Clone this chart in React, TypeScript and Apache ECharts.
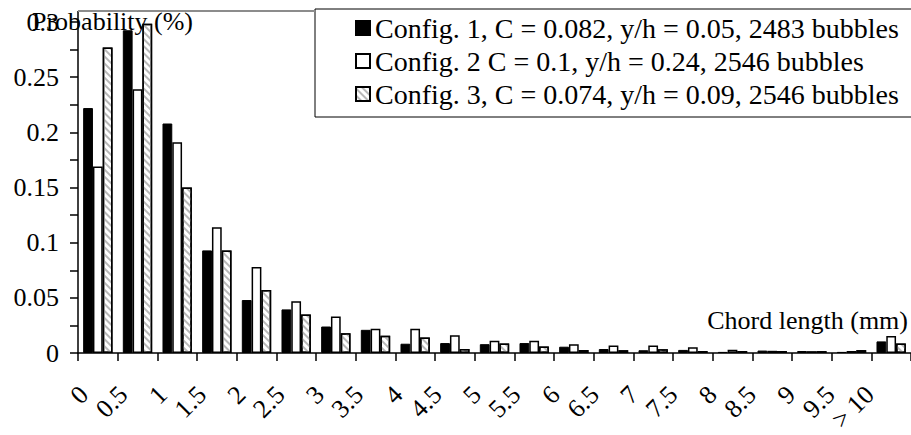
import React, { useEffect, useRef } from "react";
import * as echarts from "echarts";

const categories = ["0", "0.5", "1", "1.5", "2", "2.5", "3", "3.5", "4", "4.5", "5", "5.5", "6", "6.5", "7", "7.5", "8", "8.5", "9", "9.5", "> 10"];
const seriesNames = [
  "Config. 1, C = 0.082, y/h = 0.05, 2483 bubbles",
  "Config. 2 C = 0.1, y/h = 0.24, 2546 bubbles",
  "Config. 3, C = 0.074, y/h = 0.09, 2546 bubbles",
];
const config1 = [0.222, 0.2925, 0.208, 0.093, 0.048, 0.0395, 0.024, 0.021, 0.0084, 0.009, 0.008, 0.009, 0.0057, 0.0036, 0.0025, 0.0028, 0.001, 0.0022, 0.0018, 0.001, 0.0105];
const config2 = [0.169, 0.239, 0.191, 0.114, 0.078, 0.047, 0.033, 0.022, 0.022, 0.016, 0.011, 0.011, 0.008, 0.0069, 0.0068, 0.0052, 0.003, 0.002, 0.0017, 0.0018, 0.0155];
const config3 = [0.277, 0.2985, 0.15, 0.093, 0.057, 0.035, 0.018, 0.0157, 0.014, 0.0036, 0.0087, 0.006, 0.0027, 0.0025, 0.0035, 0.0018, 0.0018, 0.0018, 0.0017, 0.0026, 0.0085];
const yTicks = { min: 0, max: 0.3, interval: 0.05 };

const FONT = "Liberation Serif";

export default function App() {
  const ref = useRef<HTMLDivElement>(null);
  useEffect(() => {
    if (!ref.current) return;
    const chart = echarts.init(ref.current, null, { renderer: "svg" });
    const textStyle = { fontFamily: FONT, fontSize: 26, color: "#000" };
    chart.setOption({
      animation: false,
      backgroundColor: "#fff",
      textStyle: { fontFamily: FONT },
      grid: [
        { left: 78, width: 836, top: 22, bottom: 82 },
        { left: 84, width: 836, top: 22, bottom: 82 },
      ],
      legend: {
        left: 315,
        top: 9,
        orient: "vertical",
        padding: [5, 20, 9, 40],
        itemGap: 5,
        itemWidth: 14,
        itemHeight: 14,
        icon: "rect",
        backgroundColor: "#fff",
        borderColor: "#000",
        borderWidth: 1,
        borderRadius: 0,
        textStyle: { fontFamily: FONT, fontSize: 28, color: "#000", lineHeight: 28 },
        data: seriesNames,
      },
      xAxis: [
        {
          type: "category",
          gridIndex: 0,
          data: categories,
          boundaryGap: true,
          axisLine: { show: true, lineStyle: { color: "#000", width: 1.5 } },
          axisTick: { show: true, alignWithLabel: false, length: 8, lineStyle: { color: "#000", width: 1.5 } },
          axisLabel: { show: false },
          splitLine: { show: false },
        },
        {
          type: "value",
          gridIndex: 1,
          min: 0,
          max: 21,
          interval: 1,
          axisLine: { show: false },
          axisTick: { show: false },
          splitLine: { show: false },
          axisLabel: {
            ...textStyle,
            rotate: 45,
            margin: 40,
            formatter: (v: number) => categories[Math.round(v)] ?? "",
          },
        },
      ],
      yAxis: [
        {
          type: "value",
          gridIndex: 0,
          min: yTicks.min,
          max: yTicks.max,
          interval: yTicks.interval,
          axisLine: { show: true, lineStyle: { color: "#000", width: 1.5 } },
          axisTick: { show: true, length: 8, lineStyle: { color: "#000", width: 1.5 } },
          minorTick: { show: true, splitNumber: 2, length: 8, lineStyle: { color: "#000", width: 1.5 } },
          splitLine: { show: false },
          axisLabel: { ...textStyle, margin: 19 },
        },
        { type: "value", gridIndex: 1, show: false, min: 0, max: 0.3 },
      ],
      series: [
        {
          name: seriesNames[0],
          type: "bar",
          xAxisIndex: 0,
          yAxisIndex: 0,
          data: config1,
          barGap: "0%",
          barCategoryGap: "26%",
          itemStyle: { color: "#000", borderColor: "#000", borderWidth: 1 },
        },
        {
          name: seriesNames[1],
          type: "bar",
          xAxisIndex: 0,
          yAxisIndex: 0,
          data: config2,
          barGap: "0%",
          barCategoryGap: "26%",
          itemStyle: { color: "#fff", borderColor: "#000", borderWidth: 1.5 },
        },
        {
          name: seriesNames[2],
          type: "bar",
          xAxisIndex: 0,
          yAxisIndex: 0,
          data: config3,
          barGap: "0%",
          barCategoryGap: "26%",
          itemStyle: {
            color: "#fff",
            borderColor: "#000",
            borderWidth: 1.5,
            decal: {
              symbol: "rect",
              symbolSize: 1,
              color: "#b8b8b8",
              dashArrayX: [1, 0],
              dashArrayY: [1.3, 2.7],
              rotation: Math.PI / 4,
            },
          },
        },
      ],
      graphic: [
        { type: "line", shape: { x1: 78, y1: 22, x2: 78, y2: 11 }, style: { stroke: "#000", lineWidth: 1.5 }, z: 5 },
        { type: "line", shape: { x1: 78, y1: 11, x2: 315, y2: 11 }, style: { stroke: "#8c8c8c", lineWidth: 2 }, z: 5 },
        {
          type: "text",
          x: 32,
          y: 21,
          z: 20,
          style: { text: "Probability (%)", font: `26px "${FONT}"`, fill: "#000", textAlign: "left", textVerticalAlign: "middle" },
        },
        {
          type: "text",
          x: 908,
          y: 320,
          z: 20,
          style: { text: "Chord length (mm)", font: `26px "${FONT}"`, fill: "#000", textAlign: "right", textVerticalAlign: "middle" },
        },
      ],
    });
    return () => chart.dispose();
  }, []);
  return <div ref={ref} style={{ position: "absolute", left: 0, top: 0, width: 911, height: 435, background: "#fff" }} />;
}
